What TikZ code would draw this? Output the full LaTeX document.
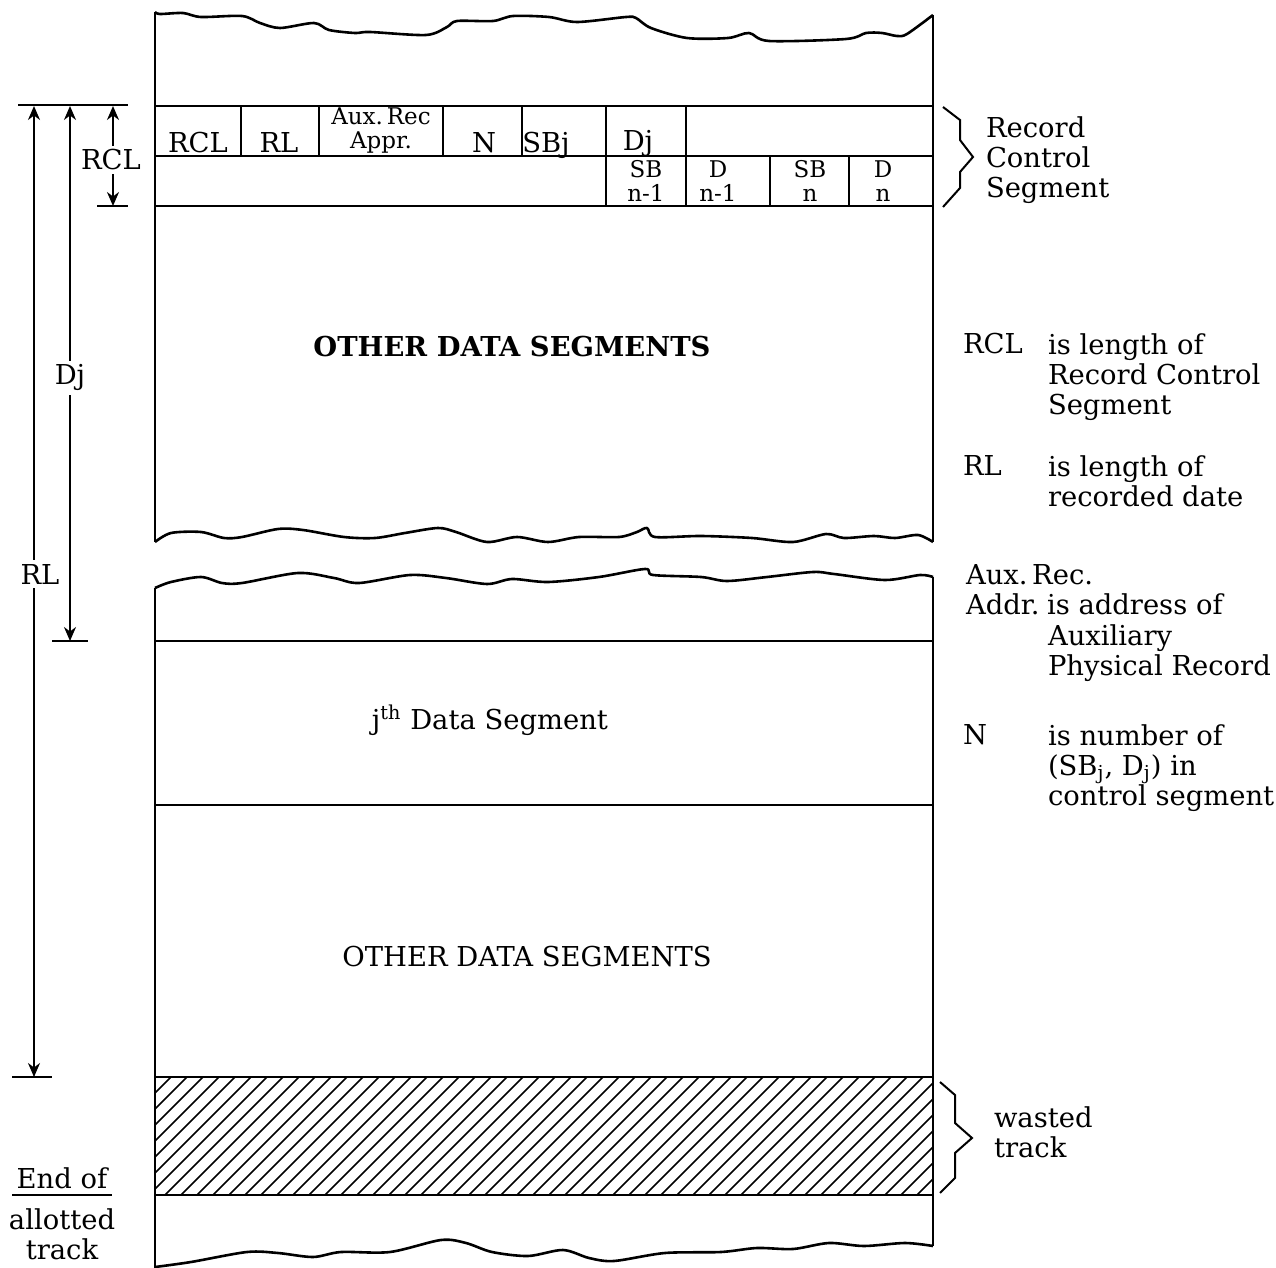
\documentclass[tikz,border=0pt]{standalone}
\usepackage{fontspec}
\setmainfont{DejaVu Serif}
\usetikzlibrary{arrows.meta}

\begin{document}
\begin{tikzpicture}[x=0.5pt, y=-0.5pt, line width=1pt, >={Stealth[length=7pt,width=6pt]}, font=\fontsize{13.7}{15}\selectfont]
    \tikzstyle{lbl}=[inner sep=0pt, anchor=base]
    \tikzstyle{stack}=[inner sep=0pt, align=center, font=\fontsize{11.5}{12}\selectfont]
    \tikzstyle{note}=[inner sep=0pt, anchor=north west, align=left]
    \tikzstyle{wave}=[line width=1.3pt, line join=round]
    \useasboundingbox (0,0) rectangle (1276,1268);
    % track outline and torn edges
    \draw (155,12) -- (155,542); \draw (933,15) -- (933,542);
    \draw (155,588) -- (155,1268); \draw (933,577) -- (933,1246);
    \draw[wave] plot[smooth, tension=0.5] coordinates {(155,12) (160,14) (183,13) (201,17) (242,16) (260,23) (280,28) (314,23) (329,30) (355,33) (370,32) (426,35) (447,27) (457,21) (493,21) (513,16) (549,17) (577,22) (626,17) (636,18) (651,28) (687,38) (728,38) (749,33) (769,41) (846,39) (866,33) (882,33) (897,36) (907,34) (933,15)};
    \draw[wave] plot[smooth, tension=0.5] coordinates {(155,542) (171,533) (201,532) (224,538) (242,537) (278,529) (303,530) (344,537) (375,538) (405,533) (438,528) (456,532) (487,542) (517,537) (548,542) (579,537) (619,537) (637,532) (647,528) (655,537) (701,536) (752,538) (793,542) (826,534) (844,538) (874,536) (895,538) (918,535) (933,542)};
    \draw[wave] plot[smooth, tension=0.5] coordinates {(155,588) (171,582) (201,577) (222,583) (242,583) (298,573) (334,578) (359,583) (410,575) (446,578) (487,584) (512,579) (548,582) (599,577) (645,569) (653,575) (701,577) (727,581) (767,577) (813,572) (834,574) (885,580) (920,575) (933,577)};
    \draw[wave] plot[smooth, tension=0.5] coordinates {(155,1267) (191,1262) (247,1252) (278,1253) (313,1257) (341,1252) (390,1252) (441,1240) (466,1243) (492,1252) (528,1256) (563,1250) (589,1258) (614,1261) (665,1253) (721,1252) (757,1248) (793,1249) (829,1243) (864,1246) (905,1243) (933,1246)};
    \foreach \y in {106,156,206,641,805,1077,1195} \draw (155,\y) -- (933,\y);
    % record control segment cells
    \foreach \x in {241,319,443,522,606,686} \draw (\x,106) -- (\x,156);
    \foreach \x in {606,686,770,849} \draw (\x,156) -- (\x,206);
    \node[lbl] (rcl) at (198,153) {RCL};
    \node[lbl] (rl) at (279,153) {RL};
    \node[stack] (aux) at (381,131) {Aux.\,Rec\\Appr.};
    \node[lbl] (n) at (484,153) {N};
    \node[lbl] (sbj) at (546,153) {SBj};
    \node[lbl] (dj) at (638,151) {Dj};
    \node[stack] (sbn1) at (646,181) {SB\\n-1};
    \node[stack] (dn1) at (718,181) {D\\n-1};
    \node[stack] (sbn) at (810,181) {SB\\n};
    \node[stack] (dn) at (883,181) {D\\n};
    % wasted track hatching
    \begin{scope}
      \clip (155,1077) rectangle (933,1195);
      \foreach \i in {0,...,57} \draw[line width=0.8pt] (37+\i*16,1195) -- ++(118,-118);
    \end{scope}
    \node (other1) at (512,347) {\textbf{OTHER DATA SEGMENTS}};
    \node (jth) at (490,720) {j\textsuperscript{th} Data Segment};
    \node (other2) at (527,957) {OTHER DATA SEGMENTS};
    % dimension lines
    \draw (18,105) -- (128,105); \draw (97,206) -- (128,206);
    \draw (52,641) -- (88,641); \draw (12,1077) -- (52,1077);
    \coordinate (rltop) at (34,106); \coordinate (rlbot) at (34,1077);
    \coordinate (djtop) at (70,106); \coordinate (djbot) at (70,641);
    \coordinate (rcltop) at (113,106); \coordinate (rclbot) at (113,206);
    \draw[<->] (rltop) -- node[pos=0.482, fill=white, inner sep=2pt, xshift=3pt] (rldim) {RL} (rlbot);
    \draw[<->] (djtop) -- node[pos=0.508, fill=white, inner sep=2pt] (djdim) {Dj} (djbot);
    \draw[<->] (rcltop) -- node[pos=0.54, fill=white, inner sep=2pt, xshift=-1pt] (rcldim) {RCL} (rclbot);
    % braces
    \draw (943,107) -- (960,120) -- (960,140) -- (973,157) -- (960,172) -- (960,188) -- (943,207);
    \node[note] (rcs) at (985,116) {\strut Record\\Control\\Segment};
    \draw (940,1082) -- (955,1095) -- (955,1123) -- (972,1138) -- (955,1153) -- (955,1178) -- (940,1193);
    \node[note] (waste) at (993,1105) {\strut wasted\\track};
    % end of allotted track
    \node[lbl] (endof) at (62,1188) {End of};
    \draw (12,1195) -- (112,1195);
    \node[note, anchor=north, align=center] (allot) at (62,1207) {\strut allotted\\track};
    % legend
    \node[lbl, anchor=base west] (krcl) at (962,353) {RCL};
    \node[note] (drcl) at (1047,332) {\strut is length of\\Record Control\\Segment};
    \node[lbl, anchor=base west] (krl) at (962,475) {RL};
    \node[note] (drl) at (1047,454) {\strut is length of\\recorded date};
    \node[lbl, anchor=base west] (kaux) at (965,584) {Aux.\,Rec.};
    \node[lbl, anchor=base west] (kaddr) at (965,614) {Addr.};
    \node[lbl, anchor=base west] (daddr) at (1046,614) {is address of};
    \node[note] (daux) at (1047,623) {\strut Auxiliary\\Physical Record};
    \node[lbl, anchor=base west] (kn) at (962,744) {N};
    \node[note] (dn) at (1047,723) {\strut is number of\\(SB\textsubscript{j}, D\textsubscript{j}) in\\control segment};
\end{tikzpicture}
\end{document}
